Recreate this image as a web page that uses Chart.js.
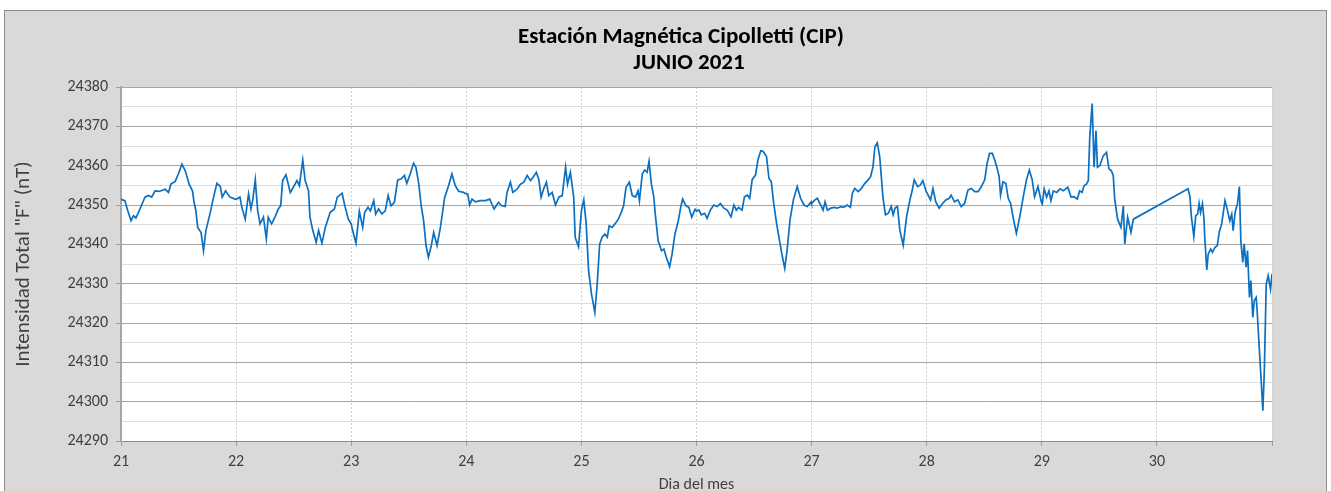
<!DOCTYPE html>
<html>
<head>
<meta charset="utf-8">
<script src="https://cdn.jsdelivr.net/npm/chart.js@4.4.1/dist/chart.umd.min.js"></script>
<style>
  html, body { margin: 0; padding: 0; background: #ffffff; }
  #c { display: block; }
</style>
</head>
<body>
<canvas id="c" width="1331" height="491"></canvas>
<script>
// ---- Data: [hour of day, total intensity F (nT)] ----
const d21 = [[0,24351.5],[0.3,24351.3],[0.8,24351.1],[1.4,24348.6],[2.1,24346],[2.6,24347.3],[3.1,24346.7],[3.6,24348],[4.3,24350],[5.0,24352],[5.7,24352.4],[6.4,24352],[7.1,24353.6],[8.1,24353.5],[9.2,24354],[9.9,24353.2],[10.4,24355.3],[11.3,24356],[12.0,24358],[12.7,24360.4],[13.4,24358.7],[14.2,24355.3],[14.9,24353.6],[15.2,24351],[15.6,24348.6],[16.0,24344.3],[16.7,24343],[17.2,24338.4],[17.7,24343.5],[18.6,24348],[19.3,24352],[20.0,24355.5],[20.7,24354.7],[21.1,24352],[21.8,24353.6],[22.7,24352],[23.8,24351.5]];
const d22 = [[0.1,24351.5],[0.8,24352],[1.2,24349.4],[1.9,24346.4],[2.6,24352.8],[3.1,24349],[3.5,24351.5],[4.0,24356.4],[4.5,24348.5],[5.0,24345.2],[5.7,24346.9],[6.3,24341.4],[6.7,24346.9],[7.4,24345.2],[8.1,24346.9],[8.8,24349],[9.3,24349.8],[9.7,24356.2],[10.4,24357.7],[11.3,24353.2],[12.1,24354.9],[12.7,24356.2],[13.2,24354.9],[13.9,24361.4],[14.4,24356.2],[15.1,24353.6],[15.4,24346.9],[16.0,24343.5],[16.7,24340.5],[17.2,24343.5],[17.9,24340.3],[18.6,24344.3],[19.6,24348.1],[20.5,24349],[21.1,24352],[22.1,24353],[22.7,24349.7],[23.4,24346.4]];
const d23 = [[0.0,24345.2],[0.3,24343.5],[1.0,24340.3],[1.7,24348.4],[2.4,24344.3],[2.8,24348.1],[3.5,24349.4],[4.0,24348.5],[4.7,24351.1],[5.1,24347.7],[5.7,24349],[6.4,24347.7],[7.1,24348.5],[7.7,24352.4],[8.3,24349.8],[9.0,24350.7],[9.7,24356.4],[10.4,24356.6],[11.1,24357.5],[11.6,24355.5],[12.3,24357.9],[13.0,24360.6],[13.5,24359.6],[14.1,24355.3],[14.6,24349.8],[15.1,24346],[15.6,24339.7],[16.1,24336.7],[16.7,24339.7],[17.2,24343],[17.9,24339.7],[18.6,24344.3],[19.5,24352],[20.3,24354.9],[21.0,24357.9],[21.7,24354.9],[22.4,24353.5],[23.4,24353.2]];
const d24 = [[0.0,24352.8],[0.3,24352.8],[0.7,24350],[1.2,24351.5],[1.9,24350.8],[2.9,24351.1],[4.0,24351.1],[4.9,24351.5],[5.4,24350],[5.8,24349],[6.7,24350.7],[7.4,24349.8],[8.1,24349.6],[8.5,24353.2],[9.2,24355.8],[9.7,24353.2],[10.6,24354],[11.3,24355.3],[12.0,24355.8],[12.7,24357.5],[13.4,24356.2],[13.9,24357],[14.6,24358.3],[15.1,24356.6],[15.6,24352],[16.1,24354],[16.7,24355.8],[17.2,24352.4],[17.9,24353.2],[18.6,24350],[19.3,24352],[20.0,24352.4],[20.7,24359.6],[21.1,24355.3],[21.7,24358.3],[22.4,24352],[22.7,24341.8],[23.4,24339.4],[23.9,24346.9]];
const d25 = [[0.0,24348.6],[0.5,24351.3],[1.0,24345.2],[1.5,24333.3],[2.1,24327.4],[2.8,24322.7],[3.3,24329.9],[3.8,24340],[4.3,24341.8],[4.9,24342.6],[5.4,24341.8],[5.8,24344.7],[6.4,24344.3],[7.0,24345.2],[7.7,24346.4],[8.3,24348.1],[8.8,24349.8],[9.3,24354.5],[10.0,24355.8],[10.6,24352.4],[11.3,24352],[11.8,24353.6],[12.1,24351.1],[12.7,24357.9],[13.2,24358.9],[13.7,24358.3],[14.1,24361.1],[14.6,24355.3],[15.1,24352],[15.4,24347.7],[16.0,24340.9],[16.7,24338.4],[17.2,24338.8],[17.7,24336.7],[18.4,24334.3],[18.9,24337.5],[19.5,24342.6],[20.2,24346],[20.7,24349.4],[21.1,24351.5],[21.8,24349.8],[22.4,24349.4],[23.0,24346.9],[23.7,24348.9]];
const d26 = [[0.0,24348.5],[0.5,24348.7],[1.0,24347.5],[1.7,24347.9],[2.2,24346.6],[2.9,24348.7],[3.6,24350],[4.3,24349.6],[5.0,24350.4],[5.7,24349.2],[6.4,24348.7],[7.2,24347],[7.8,24350],[8.3,24348.7],[8.8,24349.4],[9.5,24348.7],[10.0,24352.1],[10.6,24352.5],[11.1,24351.7],[11.6,24356.4],[12.3,24357.6],[12.8,24361.4],[13.4,24363.8],[13.9,24363.6],[14.6,24362.3],[15.1,24356.8],[15.6,24355.9],[16.1,24350.4],[16.7,24345.3],[17.4,24340.3],[17.9,24336.9],[18.4,24333.9],[18.9,24338.6],[19.5,24346.2],[20.2,24351.3],[21.0,24354.7],[21.7,24351.7],[22.4,24350],[23.1,24349.6],[23.9,24350.8]];
const d27 = [[0.0,24350.4],[0.7,24351.3],[1.2,24351.7],[1.9,24350],[2.4,24348.7],[2.8,24350.8],[3.3,24348.7],[4.0,24349.2],[4.7,24349.4],[5.4,24349.2],[6.1,24349.6],[6.7,24349.4],[7.4,24350],[8.1,24349.4],[8.5,24353],[9.0,24354.2],[9.7,24353.4],[10.4,24354.2],[11.1,24355.5],[11.8,24356.4],[12.3,24357.2],[12.8,24359.7],[13.2,24364.8],[13.7,24365.8],[14.2,24362.3],[14.9,24351.7],[15.4,24347.5],[16.0,24347.9],[16.6,24349.6],[17.0,24347.5],[17.4,24349.2],[17.9,24349.6],[18.4,24343.6],[19.1,24339.8],[19.8,24347],[20.5,24351.3],[21.0,24353.8],[21.4,24356.4],[22.1,24354.7],[22.7,24355.1],[23.2,24356.2],[23.9,24353.4]];
const d28 = [[0.1,24353],[0.8,24351.3],[1.3,24354.2],[1.9,24350.8],[2.6,24349.2],[3.3,24350.4],[4.0,24351.3],[4.7,24351.7],[5.1,24352.5],[5.8,24350.8],[6.5,24351.3],[7.2,24349.6],[7.9,24350.4],[8.6,24353.8],[9.3,24354.2],[10.0,24353.4],[10.7,24353.4],[11.4,24354.7],[12.1,24356.4],[12.6,24360.6],[13.1,24363.1],[13.7,24363.1],[14.2,24361.4],[14.7,24359.3],[15.1,24357.2],[15.4,24352.5],[15.9,24355.9],[16.5,24355.5],[17.0,24351.7],[17.5,24350.4],[18.0,24347],[18.7,24342.8],[19.4,24347],[20.2,24352.5],[20.8,24356.4],[21.4,24358.9],[22.0,24356.4],[22.5,24352.1],[23.2,24354.7],[23.9,24350.8]];
const d29 = [[0.1,24350.3],[0.5,24354.1],[1.0,24352],[1.5,24353.6],[1.9,24351.1],[2.4,24353.6],[3.1,24353.2],[3.8,24354.1],[4.5,24353.6],[5.4,24354.5],[6.1,24352],[6.7,24352.1],[7.4,24351.5],[7.9,24353.6],[8.4,24353.2],[8.8,24354.9],[9.3,24355.3],[9.7,24356.2],[10.0,24367.2],[10.5,24375.8],[10.9,24359.6],[11.3,24368.9],[11.6,24359.6],[12.1,24360],[12.8,24362.5],[13.5,24363.4],[14.0,24359.2],[14.5,24358.7],[14.9,24357.5],[15.2,24351.5],[15.8,24346.4],[16.5,24344.3],[17.0,24349.8],[17.3,24340.1],[17.9,24346.9],[18.6,24343.1],[19.1,24346.4]];
const d30 = [[6.5,24354.1],[6.9,24352],[7.2,24346.9],[7.7,24342],[8.1,24347.3],[8.5,24347.7],[8.8,24350.4],[9.1,24348.1],[9.5,24350.3],[9.8,24346.9],[10.0,24341.4],[10.4,24333.5],[10.7,24337.5],[11.2,24338.8],[11.6,24338],[12.1,24339.2],[12.6,24339.7],[13.0,24343.1],[13.5,24345.2],[13.8,24347.7],[14.2,24351.1],[14.7,24348.7],[15.2,24346],[15.6,24347.7],[15.9,24343.5],[16.3,24348.1],[16.8,24350.3],[17.2,24354.7],[17.5,24340.9],[17.9,24335.4],[18.2,24340.1],[18.6,24334.2],[18.9,24338.4],[19.3,24326.5],[19.6,24330.8],[20.0,24321.4],[20.3,24325.7],[20.7,24326.5],[20.9,24323.1],[21.5,24310.4],[22.1,24297.7],[22.4,24307.9],[22.8,24329.9],[23.2,24332],[23.7,24328.6],[24.0,24332.5]];

const days = [21, 22, 23, 24, 25, 26, 27, 28, 29, 30];
const dayData = [d21, d22, d23, d24, d25, d26, d27, d28, d29, d30];
const xTickLabels = ['21','22','23','24','25','26','27','28','29','30'];
const yMin = 24290, yMax = 24380;

const titleLines = ['Estación Magnética Cipolletti (CIP)', 'JUNIO 2021'];
const xTitle = 'Dia del mes';
const yTitle = 'Intensidad Total "F" (nT)';

const points = [];
days.forEach((d, i) => dayData[i].forEach(p => points.push({ x: d + p[0] / 24, y: p[1] })));

const FONT = 'Carlito, Lato, "Liberation Sans", sans-serif';

const framePlugin = {
  id: 'frame',
  beforeDraw(chart) {
    const c = chart.ctx;
    const a = chart.chartArea;
    c.save();
    c.fillStyle = '#ffffff';
    c.fillRect(0, 0, chart.width, chart.height);
    c.fillStyle = '#d9d9d9';
    c.fillRect(4, 10, 1323, chart.height);
    c.strokeStyle = '#8c8c8c';
    c.lineWidth = 1;
    c.strokeRect(4.5, 10.5, 1322, chart.height + 5);
    c.fillStyle = '#ffffff';
    c.fillRect(a.left, a.top, a.right - a.left, a.bottom - a.top);
    c.restore();
  },
  afterDraw(chart) {
    const c = chart.ctx;
    c.save();
    c.fillStyle = '#000000';
    c.font = 'bold 23px ' + FONT;
    c.textAlign = 'center';
    c.textBaseline = 'middle';
    c.fillText(titleLines[0], 681, 37);
    c.fillText(titleLines[1], 689, 63);
    c.restore();
  }
};

new Chart(document.getElementById('c'), {
  type: 'line',
  data: {
    datasets: [{
      data: points,
      borderColor: '#0b70c1',
      borderWidth: 1.7,
      pointRadius: 0,
      tension: 0,
      fill: false
    }]
  },
  options: {
    responsive: false,
    animation: false,
    events: [],
    layout: { padding: { top: 87, right: 59, bottom: 0, left: 0 } },
    plugins: { legend: { display: false }, title: { display: false }, tooltip: { enabled: false } },
    scales: {
      x: {
        type: 'linear',
        min: 21,
        max: 31,
        afterFit: s => { s.height = 50; },
        ticks: {
          stepSize: 1,
          autoSkip: false,
          maxRotation: 0,
          color: '#404040',
          font: { family: FONT, size: 16 },
          padding: 6,
          callback: v => { const i = days.indexOf(v); return i >= 0 ? xTickLabels[i] : ''; }
        },
        grid: { color: '#cfcfcf', lineWidth: 1, tickLength: 5, tickColor: '#a0a0a0', drawTicks: true },
        border: { display: true, color: '#8c8c8c', width: 1, dash: [2, 2] },
        title: { display: true, text: xTitle, color: '#404040', font: { family: FONT, size: 16 }, padding: { top: 0, bottom: -3.5 } }
      },
      y: {
        min: yMin,
        max: yMax,
        afterFit: s => { s.width = 121; },
        ticks: {
          stepSize: 5,
          autoSkip: false,
          color: '#404040',
          font: { family: FONT, size: 16 },
          padding: 8,
          callback: v => (v % 10 === 0 ? String(v) : '')
        },
        grid: {
          color: c => (c.tick && c.tick.value % 10 === 0 ? '#a6a6a6' : '#dcdcdc'),
          tickColor: c => (c.tick && c.tick.value % 10 === 0 ? '#a0a0a0' : 'rgba(0,0,0,0)'),
          lineWidth: 1,
          tickLength: 5
        },
        border: { display: true, color: '#a6a6a6', width: 2 },
        title: { display: true, text: yTitle, color: '#404040', font: { family: FONT, size: 21 }, padding: { top: 11, bottom: 0 } }
      }
    }
  },
  plugins: [framePlugin]
});
</script>
</body>
</html>
